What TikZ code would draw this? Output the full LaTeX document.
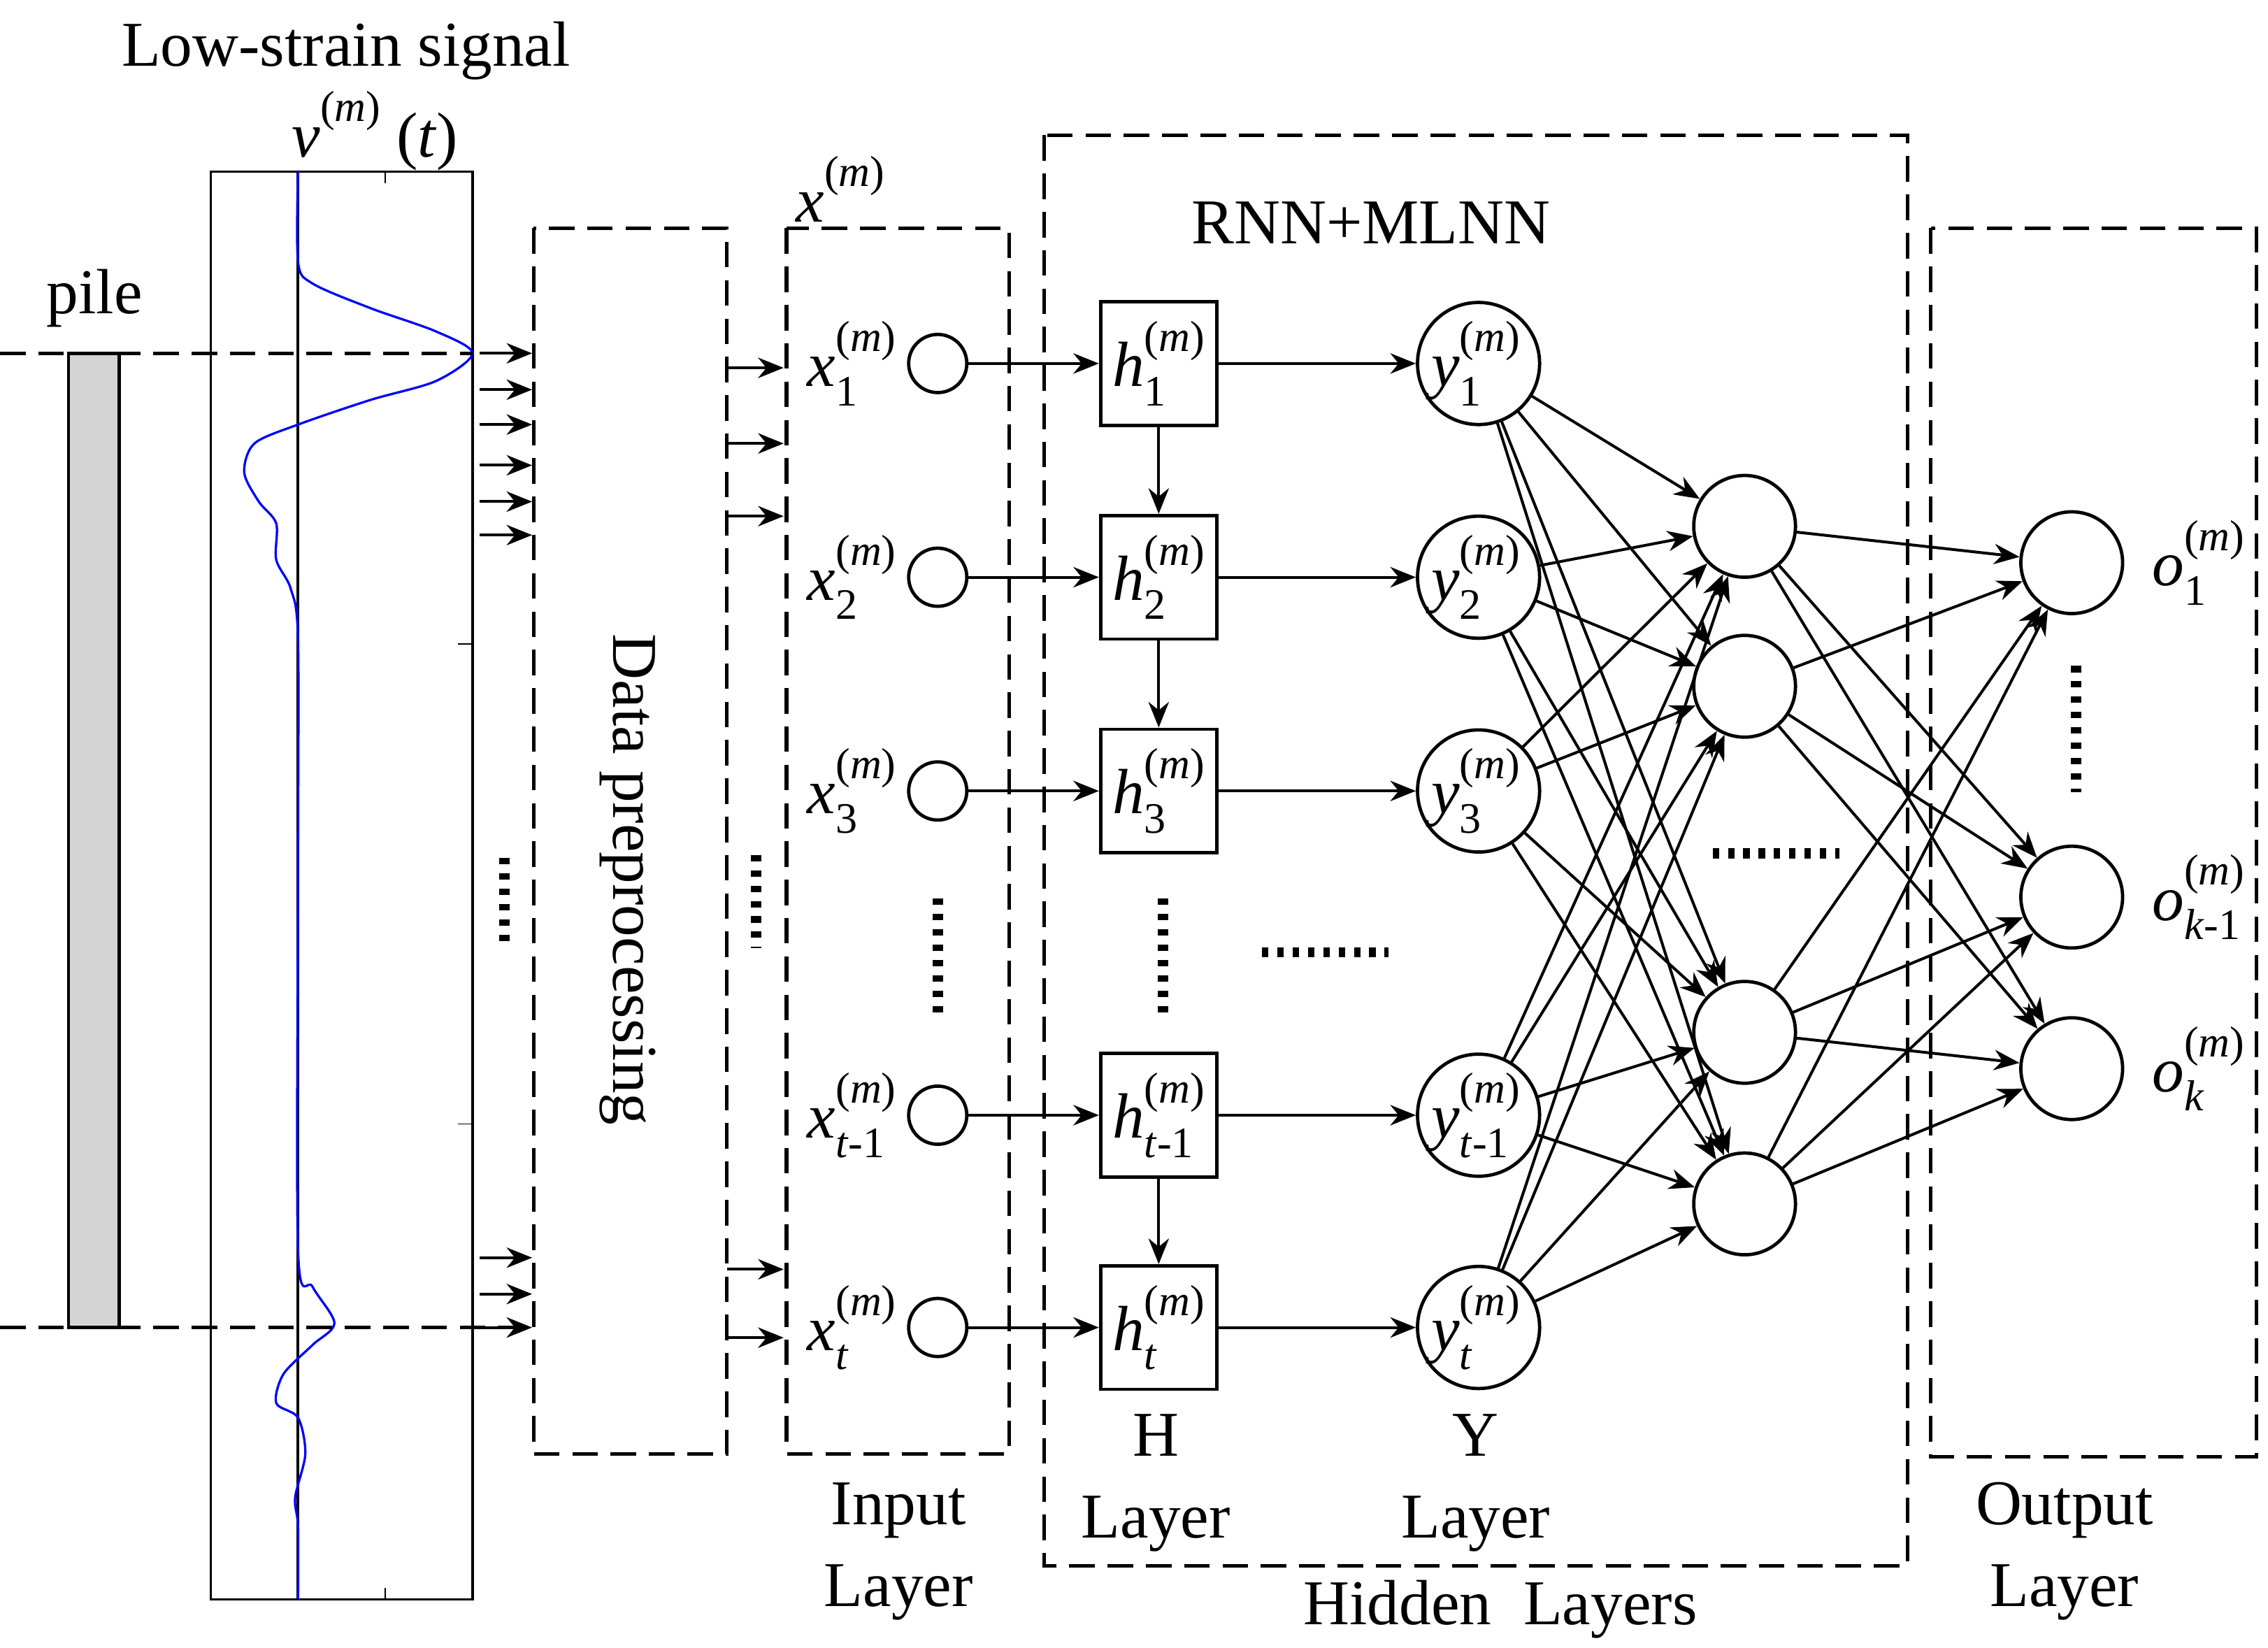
\documentclass[tikz,border=0pt]{standalone}
\usepackage{fontspec}
\setmainfont{Liberation Serif}
\usetikzlibrary{arrows.meta}
\newcommand{\vv}[2]{\textit{#1}\makebox[0.95em][l]{\rlap{\raisebox{0.55em}{\fontsize{17}{18}\selectfont(\textit{m})}}\raisebox{-0.3em}{\fontsize{17}{18}\selectfont #2}}}
\newcommand{\vvs}[1]{\textit{#1}\raisebox{0.55em}{\fontsize{17}{18}\selectfont(\textit{m})}}
\begin{document}
\begin{tikzpicture}[x=0.02cm,y=-0.02cm,
  txt/.style={font=\fontsize{25}{28}\selectfont,inner sep=0},
  dbox/.style={draw,dashed,line width=1.4pt,dash pattern=on 10pt off 5pt},
  arr/.style={-{Stealth[length=10pt,width=8pt]},line width=1.1pt},
  cir/.style={circle,draw,line width=1.3pt,inner sep=0},
  hb/.style={draw,line width=1.3pt,minimum width=1.6cm,minimum height=1.7cm,inner sep=0},
  dot/.style={line width=4pt,dash pattern=on 2.5pt off 3.5pt}]
\useasboundingbox (0,0) rectangle (1560,1133);
% signal
\node[txt] (title) at (238,35) {Low-strain signal};
\node[txt] (vt) at (258,90) {\vvs{v} (\textit{t})};
\draw[line width=1pt] (145,118) rectangle (325,1100);
\draw[line width=1pt] (205,118) -- (205,1100);
\foreach \yy in {443,773} \draw (325,\yy) -- (315,\yy);
\draw (265,118) -- (265,126); \draw (265,1100) -- (265,1092);
\draw[blue,line width=0.9pt] plot[smooth] coordinates {(205,118)(205,180)(215,195)(255,212)(300,228)(325,243)(300,262)(255,275)(205,292)(175,305)(168,325)(178,345)(190,360)(190,385)(200,405)(205,440)(205,600)(205,860)(215,885)(230,910)(215,925)(195,945)(190,965)(205,975)(210,1000)(203,1030)(205,1050)(205,1100)};
% pile
\node[txt] (pile) at (65,205) {pile};
\draw[fill=black!17,line width=1.2pt] (47,243) rectangle (82,913);
\draw[dbox] (0,243) -- (325,243);
\draw[dbox] (0,913) -- (365,913);
\foreach \yy in {243,268,292,320,345,368,865,890,913} \draw[arr] (330,\yy) -- (366,\yy);
\draw[dot] (347,590) -- (347,652);
% preprocessing
\draw[dbox] (367,157) rectangle (500,1000);
\node[txt,rotate=-90] (dp) at (432,605) {Data preprocessing};
\foreach \yy in {253,305,355,873,920} \draw[arr] (500,\yy) -- (539,\yy);
\draw[dot] (520,588) -- (520,652);
% input
\draw[dbox] (541,157) rectangle (694,1000);
\node[txt] (xm) at (578,130) {\vvs{x}};
\draw[dbox] (718,93) rectangle (1312,1077);
\node[txt] (rnn) at (943,153) {RNN+MLNN};
\draw[dbox] (1328,157) rectangle (1552,1002);
\foreach \i/\yy/\s in {1/250/1,2/397/2,3/544/3,4/767/{\textit{t}-1},5/913/\textit{t}}{
  \node[cir,minimum size=0.8cm] (x\i) at (645,\yy) {};
  \node[txt,anchor=west] (xl\i) at (555,\yy) {\vv{x}{\s}};
  \node[hb] (h\i) at (797,\yy) {};
  \node[txt] (hl\i) at (797,\yy) {\vv{h}{\s}};
  \node[cir,minimum size=1.68cm] (y\i) at (1017,\yy) {};
  \node[txt] (yl\i) at (1015,\yy) {\vv{y}{\s}};
  \draw[arr] (x\i) -- (h\i);
  \draw[arr] (h\i) -- (y\i);
}
\draw[arr] (h1) -- (h2); \draw[arr] (h2) -- (h3); \draw[arr] (h4) -- (h5);
\draw[dot] (645,618) -- (645,702);
\draw[dot] (800,618) -- (800,702);
\draw[dot] (868,655) -- (955,655);
\foreach \j/\yy in {1/362,2/472,3/710,4/828} \node[cir,minimum size=1.4cm] (g\j) at (1200,\yy) {};
\draw[dot] (1178,587) -- (1265,587);
\foreach \i in {1,...,5} \foreach \j in {1,...,4} \draw[arr] (y\i) -- (g\j);
\foreach \k/\yy/\s in {1/387/1,2/617/{\textit{k}-1},3/735/\textit{k}}{
  \node[cir,minimum size=1.4cm] (o\k) at (1425,\yy) {};
  \node[txt,anchor=west] (ol\k) at (1480,\yy) {\vv{o}{\s}};
}
\foreach \j in {1,...,4} \foreach \k in {1,2,3} \draw[arr] (g\j) -- (o\k);
\draw[dot] (1428,458) -- (1428,545);
% labels
\node[txt,align=center] (il) at (618,1067) {Input\\[4pt]Layer};
\node[txt,align=center] (hl) at (795,1020) {H\\[4pt]Layer};
\node[txt,align=center] (yl) at (1015,1020) {Y\\[4pt]Layer};
\node[txt] (hid) at (1032,1107) {Hidden\ \ Layers};
\node[txt,align=center] (ol) at (1420,1067) {Output\\[4pt]Layer};
\end{tikzpicture}
\end{document}
